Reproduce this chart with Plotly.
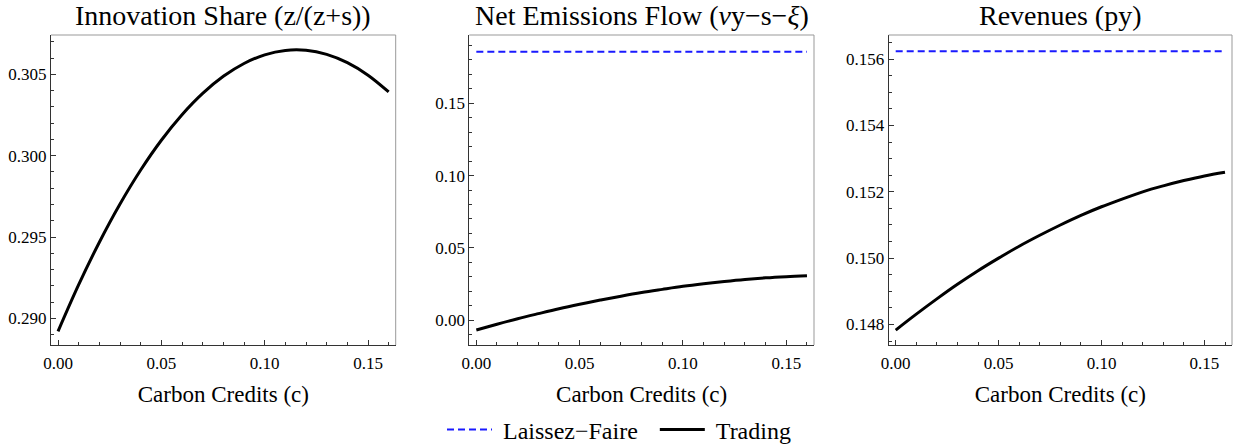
import plotly.graph_objects as go

# ---- data ----
credits = [0.00, 0.01, 0.02, 0.03, 0.04, 0.05, 0.06, 0.07, 0.08,
           0.09, 0.10, 0.11, 0.12, 0.13, 0.14, 0.15, 0.16]

innovation_trading = [0.28920, 0.29207, 0.29468, 0.29703, 0.29912, 0.30095,
                      0.30252, 0.30383, 0.30488, 0.30567, 0.30620, 0.30647,
                      0.30648, 0.30623, 0.30572, 0.30495, 0.30392]

emissions_trading = [-0.0069, -0.0029, 0.0009, 0.0044, 0.0078, 0.0109,
                     0.0138, 0.0165, 0.0190, 0.0212, 0.0233, 0.0251,
                     0.0267, 0.0281, 0.0292, 0.0300, 0.0306]
emissions_laissez = [0.1857] * len(credits)

revenues_trading = [0.14783, 0.14831, 0.14877, 0.14921, 0.14962, 0.15000,
                    0.15036, 0.15069, 0.15100, 0.15129, 0.15155, 0.15178,
                    0.15200, 0.15218, 0.15234, 0.15248, 0.15259]
revenues_laissez = [0.15624] * len(credits)

titles = ["Innovation Share (z/(z+s))",
          "Net Emissions Flow (<i>ν</i>y−s−<i>ξ</i>)",
          "Revenues (py)"]
x_title = "Carbon Credits (c)"
series_names = ["Laissez−Faire", "Trading"]

W, H = 1238, 444
FONT = "Liberation Serif, Times New Roman, serif"
BLUE = "#1a1aff"
NB = "\u00a0"

fig = go.Figure()

fig.add_trace(go.Scatter(x=credits, y=innovation_trading, mode="lines",
                         line=dict(color="black", width=3, shape="spline"),
                         showlegend=False, xaxis="x", yaxis="y"))
fig.add_trace(go.Scatter(x=credits, y=emissions_laissez, mode="lines",
                         line=dict(color=BLUE, width=2, dash="7px,4px"),
                         name=NB + series_names[0] + NB * 2, showlegend=True,
                         xaxis="x2", yaxis="y2"))
fig.add_trace(go.Scatter(x=credits, y=emissions_trading, mode="lines",
                         line=dict(color="black", width=3, shape="spline"),
                         name=NB + series_names[1], showlegend=True,
                         xaxis="x2", yaxis="y2"))
fig.add_trace(go.Scatter(x=credits, y=revenues_laissez, mode="lines",
                         line=dict(color=BLUE, width=2, dash="7px,4px"),
                         showlegend=False, xaxis="x3", yaxis="y3"))
fig.add_trace(go.Scatter(x=credits, y=revenues_trading, mode="lines",
                         line=dict(color="black", width=3, shape="spline"),
                         showlegend=False, xaxis="x3", yaxis="y3"))

domains_px = [(51, 395.7), (469.3, 814), (888.7, 1232)]
y_dom = [(H - 345) / H, (H - 35) / H]
y_ranges = [[0.28836, 0.30742], [-0.0173, 0.1973], [0.14738, 0.15673]]
y_dticks = [(0.005, 0.001, ".3f"), (0.05, 0.01, ".2f"), (0.002, 0.0005, ".3f")]

tickfont = dict(family=FONT, size=17, color="black")
layout = dict(
    width=W, height=H,
    margin=dict(l=0, r=0, t=0, b=0, autoexpand=False),
    paper_bgcolor="white", plot_bgcolor="white",
    font=dict(family=FONT, color="black"),
    showlegend=True,
    legend=dict(orientation="h", x=0.5, xanchor="center",
                y=(H - 430) / H, yanchor="middle",
                font=dict(family=FONT, size=24, color="black"),
                itemwidth=45, bgcolor="rgba(0,0,0,0)"),
)

annotations = []
shapes = []
for i in range(3):
    sx = "" if i == 0 else str(i + 1)
    x0, x1 = domains_px[i]
    major, minor, fmt = y_dticks[i]
    layout["xaxis" + sx] = dict(
        domain=[x0 / W, x1 / W], anchor="y" + sx, automargin=False,
        range=[-0.0034, 0.1634],
        tick0=0, dtick=0.05, tickformat=".2f",
        ticks="inside", ticklen=5, tickwidth=1, tickcolor="#333",
        minor=dict(tick0=0, dtick=0.01, ticks="inside", ticklen=3,
                   tickcolor="#333", showgrid=False),
        showline=True, linecolor="#333", linewidth=1,
        showgrid=False, zeroline=False,
        tickfont=tickfont, ticklabelstandoff=3,
        title=dict(text=x_title, font=dict(family=FONT, size=23, color="black"),
                   standoff=13),
    )
    layout["yaxis" + sx] = dict(
        domain=y_dom, anchor="x" + sx, automargin=False,
        range=y_ranges[i],
        tick0=0, dtick=major, tickformat=fmt,
        ticks="inside", ticklen=5, tickwidth=1, tickcolor="#333",
        minor=dict(tick0=0, dtick=minor, ticks="inside", ticklen=3,
                   tickcolor="#333", showgrid=False),
        showline=True, linecolor="#333", linewidth=1,
        showgrid=False, zeroline=False,
        tickfont=tickfont,
    )
    xd = ("x" + sx) + " domain"
    yd = ("y" + sx) + " domain"
    shapes.append(dict(type="line", xref=xd, yref=yd, x0=0, x1=1, y0=1, y1=1,
                       line=dict(color="#999", width=1)))
    shapes.append(dict(type="line", xref=xd, yref=yd, x0=1, x1=1, y0=0, y1=1,
                       line=dict(color="#999", width=1)))
    annotations.append(dict(text=titles[i], xref="paper", yref="paper",
                            x=(x0 + x1) / 2 / W, y=(H - 16) / H,
                            xanchor="center", yanchor="middle", showarrow=False,
                            font=dict(family=FONT, size=28, color="black")))

layout["annotations"] = annotations
layout["shapes"] = shapes
fig.update_layout(**layout)

fig.write_html("out.html")
